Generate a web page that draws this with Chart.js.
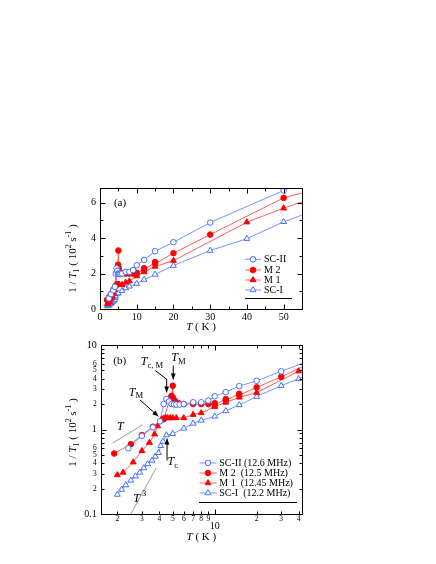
<!DOCTYPE html>
<html>
<head>
<meta charset="utf-8">
<script src="https://cdn.jsdelivr.net/npm/chart.js@4.4.1/dist/chart.umd.min.js"></script>
<style>
  html, body { margin: 0; padding: 0; background: #fff; }
  #page { position: relative; width: 436px; height: 564px; overflow: hidden; }
  canvas { position: absolute; left: 0; }
</style>
</head>
<body>
<div id="page">
  <canvas id="chartA" width="436" height="175" style="top:170px"></canvas>
  <canvas id="chartB" width="436" height="229" style="top:335px"></canvas>
</div>
<script>
// series: temperature (K) and 1/T1 (10^2 s^-1)
const scIIT   = [2.4, 3.0, 3.6, 4.05, 4.3, 4.5, 4.7, 4.9, 5.1, 5.3, 5.6, 6.0, 7, 8, 9, 10, 12, 15, 20, 30, 50];
const scIIVal = [0.6, 0.84, 1.06, 1.25, 2.0, 2.3, 2.15, 2.0, 1.98, 1.97, 1.97, 2.0, 2.1, 2.1, 2.2, 2.47, 2.77, 3.26, 3.77, 4.88, 6.69];

const m2T   = [1.9, 2.5, 3.0, 3.6, 4.3, 4.8, 4.9, 5.0, 5.0, 5.1, 5.2, 5.5, 6, 7, 8, 9, 10, 10, 12, 12, 15, 15, 20, 30, 50];
const m2Val = [0.52, 0.67, 0.86, 1.08, 1.32, 2.35, 2.5, 3.3, 2.4, 2.25, 2.15, 2.05, 2.0, 2.0, 2.0, 2.0, 2.05, 1.95, 2.3, 2.2, 2.65, 2.55, 3.15, 4.2, 6.27];

const m1T   = [2.0, 2.2, 2.6, 3.0, 3.4, 3.7, 3.9, 4.15, 4.3, 4.45, 4.6, 4.8, 5.0, 5.3, 6.0, 7, 8, 10, 12, 15, 20, 40, 50];
const m1Val = [0.29, 0.31, 0.41, 0.56, 0.7, 0.88, 1.1, 1.32, 1.36, 1.37, 1.37, 1.37, 1.37, 1.37, 1.37, 1.5, 1.57, 1.86, 2.09, 2.4, 2.73, 4.9, 5.69];

const scIT   = [2.0, 2.15, 2.3, 2.5, 2.7, 2.9, 3.1, 3.3, 3.55, 3.75, 3.95, 4.1, 4.25, 4.5, 5.0, 6.0, 7, 8, 10, 12, 15, 20, 30, 40, 50];
const scIVal = [0.17, 0.195, 0.22, 0.25, 0.28, 0.31, 0.35, 0.39, 0.43, 0.48, 0.53, 0.64, 0.72, 0.86, 0.89, 1.03, 1.18, 1.28, 1.43, 1.66, 1.95, 2.45, 3.3, 3.97, 4.92];

// guide lines run on past the last point to the edge of panel (a)
const tailT = 55;
const tailVal = { scII: 7.1, m2: 6.55, m1: 6.05, scI: 5.3 };

// tick values and labels
const tTicksA = [0, 5, 10, 15, 20, 25, 30, 35, 40, 45, 50, 55];
const tLabelsA = ['0', '', '10', '', '20', '', '30', '', '40', '', '50', ''];
const rateTicksA = [0, 1, 2, 3, 4, 5, 6];
const rateLabelsA = ['0', '', '2', '', '4', '', '6'];

const tTicksB = [2, 3, 4, 5, 6, 7, 8, 9, 10, 20, 30, 40];
const tLabelsB = ['2', '3', '4', '5', '6', '7', '8', '9', ['', '10'], '2', '3', '4'];
const rateTicksB = [0.1, 0.2, 0.3, 0.4, 0.5, 0.6, 0.7, 0.8, 0.9, 1, 2, 3, 4, 5, 6, 7, 8, 9, 10];
const rateLabelsB = ['0.1', '2', '3', '4', '5', '6', '', '', '', '1', '2', '3', '4', '5', '6', '', '', '', '10'];

const SERIF = '"Liberation Serif", "DejaVu Serif", serif';
const BLUE = 'rgb(70,110,255)';
const BLUE_LINE = 'rgb(115,150,255)';
const RED = 'rgb(255,0,0)';
const RED_LINE = 'rgb(255,95,95)';

const series = [
    { key: 'scII', name: 'SC-II', long: 'SC-II (12.6 MHz)', T: scIIT, v: scIIVal, color: BLUE, line: BLUE_LINE, style: 'circle', open: true },
    { key: 'm2', name: 'M 2', long: 'M 2  (12.5 MHz)', T: m2T, v: m2Val, color: RED, line: RED_LINE, style: 'circle', open: false },
    { key: 'm1', name: 'M 1', long: 'M 1  (12.45 MHz)', T: m1T, v: m1Val, color: RED, line: RED_LINE, style: 'triangle', open: false },
    { key: 'scI', name: 'SC-I', long: 'SC-I  (12.2 MHz)', T: scIT, v: scIVal, color: BLUE, line: BLUE_LINE, style: 'triangle', open: true }
];

const pointSize = { circle: 2.8, triangle: 3.4 };

function buildDatasets() {
    const markers = series.map(s => ({
        data: s.T.map((t, i) => ({ x: t, y: s.v[i] })),
        showLine: false,
        pointStyle: s.style,
        pointRadius: pointSize[s.style],
        pointBackgroundColor: s.open ? '#fff' : s.color,
        pointBorderColor: s.color,
        pointBorderWidth: 1
    }));
    const lines = series.map(s => ({
        data: s.T.map((t, i) => ({ x: t, y: s.v[i] })).concat([{ x: tailT, y: tailVal[s.key] }]),
        showLine: true,
        borderColor: s.line,
        borderWidth: 1,
        pointRadius: 0,
        tension: 0
    }));
    return markers.concat(lines);
}

function axis(type, min, max, ticks, labels, majors, font, pad, fit) {
    return {
        type, min, max,
        grid: { display: false, drawTicks: false },
        border: { display: false },
        afterBuildTicks: s => { s.ticks = ticks.map(v => ({ value: v, major: majors.includes(v) })); },
        afterFit: fit,
        ticks: {
            autoSkip: false, maxRotation: 0, minRotation: 0, padding: pad, color: '#000',
            font: font,
            callback: (v, i) => labels[i]
        }
    };
}

function fontStr(size, italic) {
    return (italic ? 'italic ' : '') + size + 'px ' + SERIF;
}

// text with italic / sub / sup parts, centred on (x, y)
function drawRich(ctx, parts, x, y, size, rotate = 0, align = 'center') {
    let w = 0;
    const items = parts.map(p => {
        const s = (p.sub || p.sup) ? size * 0.72 : size;
        ctx.font = fontStr(s, p.it);
        const pw = ctx.measureText(p.t).width;
        const item = { p, s, x: w };
        w += pw;
        return item;
    });
    ctx.save();
    ctx.translate(x, y);
    ctx.rotate(rotate);
    ctx.textBaseline = 'middle';
    ctx.textAlign = 'left';
    ctx.fillStyle = '#000';
    const x0 = align === 'center' ? -w / 2 : 0;
    items.forEach(it => {
        ctx.font = fontStr(it.s, it.p.it);
        const dy = it.p.sub ? size * 0.32 : it.p.sup ? -size * 0.38 : 0;
        ctx.fillText(it.p.t, x0 + it.x, dy);
    });
    ctx.restore();
}

function drawMarker(ctx, s, x, y) {
    const r = pointSize[s.style];
    ctx.beginPath();
    if (s.style === 'circle') {
        ctx.arc(x, y, r, 0, Math.PI * 2);
    } else {
        ctx.moveTo(x, y - r);
        ctx.lineTo(x + r * Math.sin(Math.PI * 2 / 3), y + r * 0.5);
        ctx.lineTo(x - r * Math.sin(Math.PI * 2 / 3), y + r * 0.5);
        ctx.closePath();
    }
    ctx.fillStyle = s.open ? '#fff' : s.color;
    ctx.fill();
    ctx.strokeStyle = s.color;
    ctx.lineWidth = 1;
    ctx.stroke();
}

const yTitle = [
    { t: '1 / ' }, { t: 'T', it: true }, { t: '1', sub: true }, { t: ' ( 10' }, { t: '2', sup: true },
    { t: ' s' }, { t: '-1', sup: true }, { t: ' )' }
];
const xTitle = [{ t: 'T', it: true }, { t: ' ( K )' }];

function makeDecor(cfg) {
    return {
        id: 'decor',
        afterDraw(chart) {
            const ctx = chart.ctx;
            const ca = chart.chartArea;
            const xs = chart.scales.x, ys = chart.scales.y;
            ctx.save();
            ctx.strokeStyle = '#000';
            ctx.lineWidth = 1;
            const L = Math.round(ca.left) + 0.5, R = Math.round(ca.right) + 0.5;
            const T = Math.round(ca.top) + 0.5, B = Math.round(ca.bottom) + 0.5;
            ctx.strokeRect(L, T, R - L, B - T);
            ctx.beginPath();
            xs.ticks.forEach(t => {
                const p = Math.round(xs.getPixelForValue(t.value)) + 0.5;
                if (p < L - 0.1 || p > R + 0.1) return;
                const len = t.major ? cfg.majorLen : cfg.minorLen;
                ctx.moveTo(p, B); ctx.lineTo(p, B - len);
                ctx.moveTo(p, T); ctx.lineTo(p, T + len);
            });
            ys.ticks.forEach(t => {
                const p = Math.round(ys.getPixelForValue(t.value)) + 0.5;
                if (p < T - 0.1 || p > B + 0.1) return;
                const len = t.major ? cfg.majorLen : cfg.minorLen;
                ctx.moveTo(L, p); ctx.lineTo(L + len, p);
                ctx.moveTo(R, p); ctx.lineTo(R - len, p);
            });
            ctx.stroke();

            // axis titles and panel label
            drawRich(ctx, xTitle, (ca.left + ca.right) / 2, ca.bottom + cfg.xTitleDy, 11);
            drawRich(ctx, yTitle, cfg.yTitleX, (ca.top + ca.bottom) / 2 + cfg.yTitleDy, 11, -Math.PI / 2);
            drawRich(ctx, [{ t: cfg.panel }], ca.left + cfg.panelDx, ca.top + cfg.panelDy, 11);

            // legend
            const lg = cfg.legend;
            series.forEach((s, i) => {
                const y = ca.bottom + lg.rows[i];
                ctx.beginPath();
                ctx.strokeStyle = s.line;
                ctx.lineWidth = 1;
                ctx.moveTo(ca.right + lg.x1, y);
                ctx.lineTo(ca.right + lg.x2, y);
                ctx.stroke();
                drawMarker(ctx, s, ca.right + lg.mx, y);
                ctx.font = fontStr(lg.size);
                ctx.fillStyle = '#000';
                ctx.textBaseline = 'middle';
                ctx.textAlign = 'left';
                ctx.fillText(lg.long ? s.long : s.name, ca.right + lg.tx, y);
            });
            ctx.beginPath();
            ctx.strokeStyle = '#000';
            ctx.lineWidth = 1;
            ctx.moveTo(ca.right + lg.ulX1, Math.round(ca.bottom + lg.ulY) + 0.5);
            ctx.lineTo(ca.right + lg.ulX2, Math.round(ca.bottom + lg.ulY) + 0.5);
            ctx.stroke();

            if (cfg.extra) cfg.extra(chart, ctx);
            ctx.restore();
        }
    };
}

function arrow(ctx, pts) {
    ctx.beginPath();
    ctx.strokeStyle = '#000';
    ctx.lineWidth = 1;
    pts.forEach((p, i) => i ? ctx.lineTo(p[0], p[1]) : ctx.moveTo(p[0], p[1]));
    ctx.stroke();
    const [ax, ay] = pts[pts.length - 2], [bx, by] = pts[pts.length - 1];
    const ang = Math.atan2(by - ay, bx - ax);
    const hl = 6, hw = 2.4;
    ctx.beginPath();
    ctx.moveTo(bx, by);
    ctx.lineTo(bx - hl * Math.cos(ang) + hw * Math.sin(ang), by - hl * Math.sin(ang) - hw * Math.cos(ang));
    ctx.lineTo(bx - hl * Math.cos(ang) - hw * Math.sin(ang), by - hl * Math.sin(ang) + hw * Math.cos(ang));
    ctx.closePath();
    ctx.fillStyle = '#000';
    ctx.fill();
}

// annotations of panel (b), in data coordinates (T, 1/T1)
const powerLawT = [[1.85, 0.69], [3.05, 1.14]];
const powerLawT3 = [[2.5, 0.1], [3.8, 0.35]];
const arrowTcM = [[3.73, 5.0], [4.52, 3.94], [4.52, 2.75]];
const arrowTMtop = [[5.04, 5.7], [5.04, 3.9]];
const arrowTMleft = [[2.91, 2.24], [3.94, 1.43]];
const arrowTc = [[4.55, 0.43], [4.55, 0.78]];

function annotateB(chart, ctx) {
    const xs = chart.scales.x, ys = chart.scales.y;
    const px = p => [xs.getPixelForValue(p[0]), ys.getPixelForValue(p[1])];
    ctx.strokeStyle = '#808080';
    ctx.lineWidth = 0.8;
    [powerLawT, powerLawT3].forEach(seg => {
        const a = px(seg[0]), b = px(seg[1]);
        ctx.beginPath(); ctx.moveTo(a[0], a[1]); ctx.lineTo(b[0], b[1]); ctx.stroke();
    });
    [arrowTcM, arrowTMtop, arrowTMleft, arrowTc].forEach(a => arrow(ctx, a.map(px)));
    let p = px([2.1, 1.07]);
    drawRich(ctx, [{ t: 'T', it: true }], p[0], p[1], 12);
    p = px([2.9, 0.153]);
    drawRich(ctx, [{ t: 'T', it: true }, { t: ' 3', sup: true }], p[0], p[1], 12);
    p = px([3.55, 6.3]);
    drawRich(ctx, [{ t: 'T', it: true }, { t: 'c, M', sub: true }], p[0], p[1], 12);
    p = px([5.5, 7.1]);
    drawRich(ctx, [{ t: 'T', it: true }, { t: 'M', sub: true }], p[0], p[1], 12);
    p = px([2.72, 2.75]);
    drawRich(ctx, [{ t: 'T', it: true }, { t: 'M', sub: true }], p[0], p[1], 12);
    p = px([5.0, 0.41]);
    drawRich(ctx, [{ t: 'T', it: true }, { t: 'c', sub: true }], p[0], p[1], 12);
}

const baseOptions = {
    responsive: false,
    animation: false,
    plugins: { legend: { display: false }, tooltip: { enabled: false } }
};

new Chart(document.getElementById('chartA'), {
    type: 'scatter',
    data: { datasets: buildDatasets() },
    options: Object.assign({}, baseOptions, {
        layout: { padding: { top: 18, right: 134, left: 0, bottom: 0 } },
        scales: {
            x: axis('linear', 0, 55, tTicksA, tLabelsA, [0, 10, 20, 30, 40, 50],
                { family: SERIF, size: 10 }, 2, s => { s.height = 36; }),
            y: axis('linear', 0, 6.83, rateTicksA, rateLabelsA, [0, 2, 4, 6],
                { family: SERIF, size: 10 }, 4, s => { s.width = 100; })
        }
    }),
    plugins: [makeDecor({
        majorLen: 5, minorLen: 3,
        xTitleDy: 18, yTitleX: 73, yTitleDy: 10,
        panel: '(a)', panelDx: 20, panelDy: 15,
        legend: { rows: [-49.7, -39, -29, -19], x1: -57, x2: -41, mx: -49, tx: -38, size: 10, long: false,
                  ulY: -10.7, ulX1: -57, ulX2: -10 }
    })]
});

new Chart(document.getElementById('chartB'), {
    type: 'scatter',
    data: { datasets: buildDatasets() },
    options: Object.assign({}, baseOptions, {
        layout: { padding: { top: 7.7, right: 134, left: 0, bottom: 0 } },
        scales: {
            x: axis('logarithmic', 1.52, 42.3, tTicksB, tLabelsB, [10],
                ctx => (ctx.tick && ctx.tick.major) ? { family: SERIF, size: 10, lineHeight: 0.75 } : { family: SERIF, size: 7.5 },
                1, s => { s.height = 50; }),
            y: axis('logarithmic', 0.1, 10, rateTicksB, rateLabelsB, [0.1, 1, 10],
                ctx => (ctx.tick && ctx.tick.major) ? { family: SERIF, size: 10 } : { family: SERIF, size: 7.5 },
                4, s => { s.width = 100.7; })
        }
    }),
    plugins: [makeDecor({
        majorLen: 5, minorLen: 3,
        xTitleDy: 23, yTitleX: 73, yTitleDy: 3,
        panel: '(b)', panelDx: 19, panelDy: 16,
        legend: { rows: [-51, -41, -31, -21], x1: -102.5, x2: -85.3, mx: -94, tx: -82.7, size: 10, long: true,
                  ulY: -12, ulX1: -103, ulX2: -5 },
        extra: annotateB
    })]
});
</script>
</body>
</html>
